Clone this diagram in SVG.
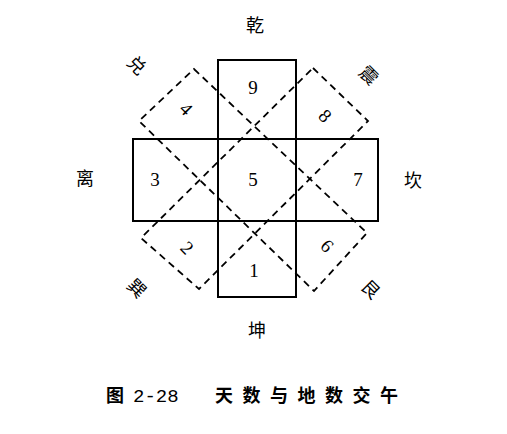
<svg xmlns="http://www.w3.org/2000/svg" width="507" height="434" viewBox="0 0 507 434">
<style>
.solid{fill:none;stroke:#000;stroke-width:2}
.dash{fill:none;stroke:#000;stroke-width:1.8;stroke-dasharray:7 5}
.num{font-family:"Liberation Serif","Times New Roman",serif;font-size:19px;fill:#000;text-anchor:middle}
.lab{font-family:"Noto Sans CJK SC","Noto Sans CJK JP",sans-serif;font-size:18px;fill:#000;text-anchor:middle}
.cap{font-family:"Noto Sans CJK SC","Noto Sans CJK JP",sans-serif;font-size:18px;font-weight:bold;fill:#000}
</style>
<rect width="507" height="434" fill="#fff"/>
<g id="heaven-cross">
<rect id="vertical" class="solid" x="218" y="60" width="78" height="237"/>
<rect id="horizontal" class="solid" x="133" y="139" width="245" height="82"/>
</g>
<g id="earth-x">
<polygon id="diag-4-6" class="dash" points="194,69 367,233 314,291 139,121"/>
<polygon id="diag-8-2" class="dash" points="313,68 368,121 199,289 141,238"/>
</g>
<g id="numbers">
<g id="n9"><text class="num" x="253" y="93.5">9</text></g>
<g id="n3"><text class="num" x="155" y="186">3</text></g>
<g id="n5"><text class="num" x="253" y="185.5">5</text></g>
<g id="n7"><text class="num" x="358" y="186">7</text></g>
<g id="n1"><text class="num" x="254" y="276.5">1</text></g>
<g id="n4" transform="translate(186,109) rotate(45)"><text class="num" x="0" y="6.3">4</text></g>
<g id="n8" transform="translate(325,116) rotate(45)"><text class="num" x="0" y="6.3">8</text></g>
<g id="n2" transform="translate(187,248) rotate(45)"><text class="num" x="0" y="6.3">2</text></g>
<g id="n6" transform="translate(327,246) rotate(45)"><text class="num" x="0" y="6.3">6</text></g>
</g>
<g id="trigrams">
<g id="qian"><text class="lab" x="255" y="32">乾</text></g>
<g id="kun"><text class="lab" x="257" y="337">坤</text></g>
<g id="li"><text class="lab" x="85" y="185">离</text></g>
<g id="kan"><text class="lab" x="413" y="187">坎</text></g>
<g id="dui" transform="translate(137,65) rotate(45)"><text class="lab" x="0" y="6.8">兑</text></g>
<g id="zhen" transform="translate(369,75) rotate(45)"><text class="lab" x="0" y="6.8">震</text></g>
<g id="xun" transform="translate(137,288) rotate(45)"><text class="lab" x="0" y="6.8">巽</text></g>
<g id="gen" transform="translate(371,289) rotate(45)"><text class="lab" x="0" y="6.8">艮</text></g>
</g>
<g id="caption">
<text class="cap" y="402"><tspan x="106">图</tspan><tspan x="133" font-family="'Liberation Mono',monospace" font-weight="normal" font-size="19">2-28</tspan><tspan x="215" letter-spacing="9.5">天数与地数交午</tspan></text>
</g>
</svg>
